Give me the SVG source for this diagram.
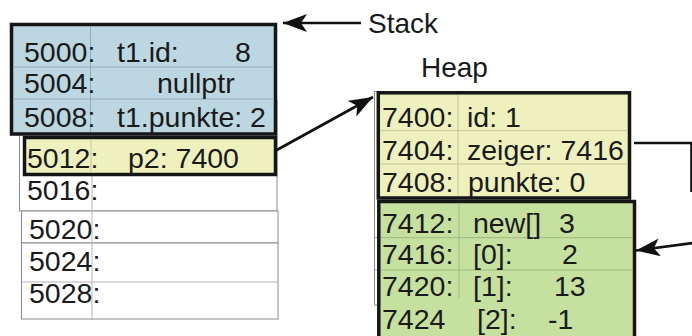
<svg xmlns="http://www.w3.org/2000/svg" width="692" height="336" viewBox="0 0 692 336">
  <defs>
    <marker id="arrow" markerUnits="userSpaceOnUse" markerWidth="26" markerHeight="20" refX="24" refY="9" orient="auto">
      <path d="M0,0 L24,9 L0,18 L6,9 z" fill="#111"/>
    </marker>
  </defs>
  <style>
    text { font-family: "Liberation Sans", Arial, sans-serif; font-size: 28.5px; fill: #1a1a1a; }
    .title { font-size: 28px; }
    .tbl { fill: #fff; stroke: #8a8a8a; stroke-width: 1; }
    .grid { stroke: #b5b5b5; stroke-width: 1; fill: none; }
    .box { stroke: #161616; stroke-width: 3.5; }
    .blue { fill: #bcd7e1; }
    .yellow { fill: #eef1bd; }
    .green { fill: #c6e0a0; }
    .sep-blue { stroke: #93adb7; stroke-width: 1; }
    .sep-yellow { stroke: #c4c794; stroke-width: 1; }
    .sep-green { stroke: #9fba80; stroke-width: 1; }
    .conn { stroke: #111; stroke-width: 2.6; fill: none; }
  </style>

  <rect width="692" height="336" fill="#fff"/>

  <!-- Stack -->
  <g id="stack-label">
    <text class="title" x="368" y="33">Stack</text>
  </g>

  <!-- plain memory cells below the stack frame -->
  <g id="stack-free">
    <rect class="tbl" x="19.5" y="100.5" width="257.5" height="110.5"/>
    <rect class="tbl" x="21.5" y="211" width="256.5" height="32" stroke="#c0c0c0"/>
    <rect class="tbl" x="21.5" y="243" width="256.5" height="76" stroke="#7a7a7a"/>
    <line class="grid" x1="22" y1="282" x2="278" y2="282"/>
    <line class="grid" x1="92" y1="175" x2="92" y2="320"/>
    <text x="27" y="200">5016:</text>
    <text x="29" y="239">5020:</text>
    <text x="29" y="271">5024:</text>
    <text x="29" y="303">5028:</text>
  </g>

  <g id="stack-frame">
    <rect class="box blue" x="11.5" y="24.5" width="264" height="109.5"/>
    <line class="sep-blue" x1="13" y1="67" x2="274" y2="67"/>
    <line class="sep-blue" x1="13" y1="99" x2="274" y2="99"/>
    <line class="sep-blue" x1="90.5" y1="27" x2="90.5" y2="132"/>
    <text x="24" y="62">5000:</text>
    <text x="117" y="62">t1.id:</text>
    <text x="235" y="62">8</text>
    <text x="24" y="93">5004:</text>
    <text x="157" y="93">nullptr</text>
    <text x="24" y="127">5008:</text>
    <text x="117" y="127">t1.punkte: 2</text>
  </g>

  <g id="stack-p2">
    <rect class="box yellow" x="24.5" y="137.5" width="251" height="37"/>
    <line class="sep-yellow" x1="91" y1="139" x2="91" y2="173"/>
    <text x="27" y="168">5012:</text>
    <text x="128" y="168">p2: 7400</text>
  </g>

  <!-- Heap -->
  <g id="heap-label">
    <text class="title" x="421" y="77">Heap</text>
  </g>

  <g id="heap-bg">
    <rect class="tbl" x="374.5" y="91.5" width="256" height="213.5" stroke="#9a9a9a"/>
    <line class="grid" x1="375" y1="237.5" x2="380" y2="237.5"/>
    <line class="grid" x1="375" y1="270" x2="380" y2="270"/>
  </g>

  <g id="heap-object">
    <rect class="box yellow" x="378.3" y="92.8" width="251.2" height="105.2"/>
    <line class="sep-yellow" x1="380" y1="130.7" x2="628" y2="130.7"/>
    <line class="sep-yellow" x1="380" y1="164" x2="628" y2="164"/>
    <line class="sep-yellow" x1="458" y1="95" x2="458" y2="196"/>
    <text x="382" y="127">7400:</text>
    <text x="467" y="127">id: 1</text>
    <text x="382" y="160">7404:</text>
    <text x="467" y="160">zeiger: 7416</text>
    <text x="382" y="192">7408:</text>
    <text x="468" y="192">punkte: 0</text>
  </g>

  <g id="heap-array">
    <rect class="box green" x="378.8" y="201.5" width="255.7" height="150"/>
    <line class="sep-green" x1="381" y1="237.7" x2="633" y2="237.7"/>
    <line class="sep-green" x1="381" y1="270" x2="633" y2="270"/>
    <line class="sep-green" x1="459" y1="203" x2="459" y2="298"/>
    <text x="382" y="233">7412:</text>
    <text x="473" y="233">new[]</text>
    <text x="559" y="233">3</text>
    <text x="382" y="264">7416:</text>
    <text x="473" y="264">[0]:</text>
    <text x="562" y="264">2</text>
    <text x="382" y="296">7420:</text>
    <text x="473" y="296">[1]:</text>
    <text x="554" y="296">13</text>
    <text x="382" y="329">7424</text>
    <text x="477" y="329">[2]:</text>
    <text x="548" y="329">-1</text>
  </g>

  <!-- pointers -->
  <g id="connectors">
    <line class="conn" x1="361" y1="23" x2="283" y2="23" marker-end="url(#arrow)"/>
    <line class="conn" x1="275" y1="151" x2="373" y2="97" marker-end="url(#arrow)"/>
    <polyline class="conn" points="634,143 691.5,143 691.5,192"/>
    <line class="conn" x1="693" y1="243" x2="636" y2="250.5" marker-end="url(#arrow)"/>
  </g>
</svg>
